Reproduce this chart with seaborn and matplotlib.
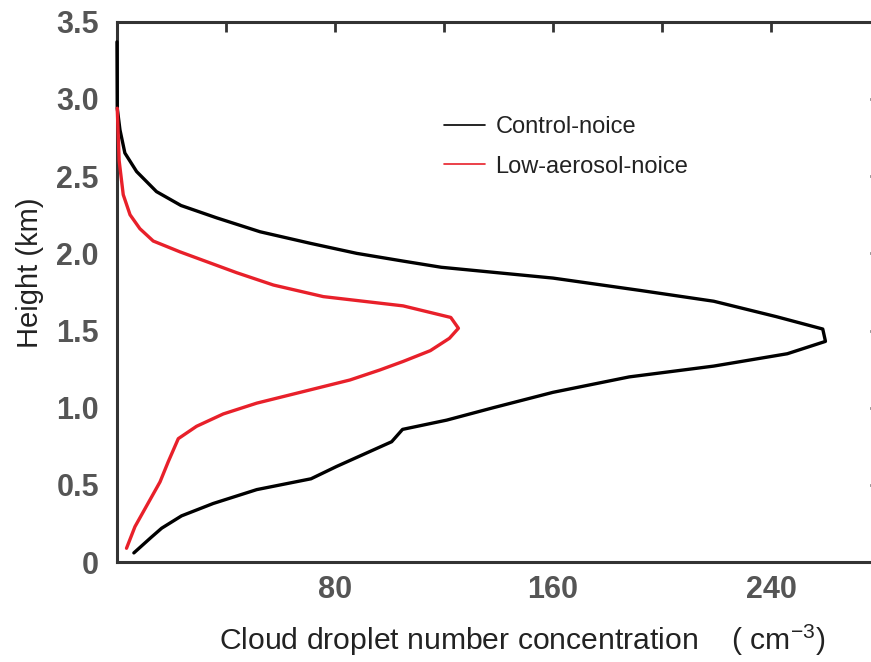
import matplotlib
matplotlib.use("Agg")
import matplotlib.pyplot as plt
import seaborn as sns
import pandas as pd
from matplotlib.ticker import FixedLocator, FixedFormatter

# ---- data ----
ctrl_label = "Control-noice"
ctrl_height = [0.06, 0.16, 0.22, 0.30, 0.38, 0.47, 0.54, 0.62, 0.78, 0.86, 0.92, 1.00,
               1.10, 1.20, 1.27, 1.35, 1.43, 1.51, 1.59, 1.69, 1.76, 1.84, 1.91, 1.95,
               2.00, 2.065, 2.14, 2.23, 2.31, 2.40, 2.53, 2.65, 2.80, 2.94, 3.37]
ctrl_conc = [6.2, 12.5, 16.4, 23.7, 35.3, 51.3, 71.2, 80.6, 100.8, 104.8, 121.0, 138.0,
             160.0, 188.0, 219.0, 246.0, 260.0, 259.0, 242.0, 219.0, 192.0, 160.0, 119.0, 105.0,
             88.0, 71.0, 52.5, 36.6, 23.5, 14.5, 7.2, 2.9, 1.1, 0.1, 0.0]

low_label = "Low-aerosol-noice"
low_height = [0.09, 0.23, 0.52, 0.65, 0.80, 0.88, 0.96, 1.03, 1.18, 1.245, 1.30, 1.37,
              1.45, 1.515, 1.585, 1.66, 1.72, 1.795, 1.875, 2.01, 2.08, 2.16, 2.25, 2.38,
              2.60, 2.94]
low_conc = [3.5, 6.6, 15.8, 18.8, 22.5, 29.2, 39.0, 51.3, 85.5, 96.5, 105.0, 115.0,
            122.0, 125.3, 122.5, 105.0, 75.7, 57.4, 43.9, 23.1, 13.3, 8.4, 4.8, 2.3,
            0.8, 0.1]

x_major = [80, 160, 240]
x_major_labels = ["80", "160", "240"]
x_minor = [0, 40, 120, 200, 280]
y_ticks = [0, 0.5, 1.0, 1.5, 2.0, 2.5, 3.0, 3.5]
y_tick_labels = ["0", "0.5", "1.0", "1.5", "2.0", "2.5", "3.0", "3.5"]

df = pd.concat([
    pd.DataFrame({"conc": ctrl_conc, "height": ctrl_height, "run": ctrl_label}),
    pd.DataFrame({"conc": low_conc, "height": low_height, "run": low_label}),
], ignore_index=True)

sns.set_style("white")
plt.rcParams["font.family"] = ["Liberation Sans", "DejaVu Sans"]
plt.rcParams["mathtext.fontset"] = "custom"
plt.rcParams["mathtext.rm"] = "Liberation Sans"
plt.rcParams["mathtext.it"] = "Liberation Sans"

fig = plt.figure(figsize=(8.71, 6.62), dpi=100)
ax = fig.add_axes([0.1343, 0.1508, 0.876, 0.8163])

red = "#e8202a"
sns.lineplot(data=df, x="conc", y="height", hue="run", sort=False, estimator=None,
             palette={ctrl_label: "black", low_label: red}, linewidth=2.4,
             ax=ax, legend=True)
for ln in ax.get_lines():
    ln.set_zorder(3)
    ln.set_clip_on(False)

ax.set_xlim(0, 280)
ax.set_ylim(0, 3.5)

for s in ax.spines.values():
    s.set_linewidth(2.2)
    s.set_color("#333333")

ax.xaxis.set_major_locator(FixedLocator(x_major))
ax.xaxis.set_major_formatter(FixedFormatter(x_major_labels))
ax.xaxis.set_minor_locator(FixedLocator(x_minor))
ax.yaxis.set_major_locator(FixedLocator(y_ticks))
ax.yaxis.set_major_formatter(FixedFormatter(y_tick_labels))

ax.tick_params(axis="both", which="both", direction="in", top=True, right=True,
               length=7, width=2.0, color="#333333")
ax.tick_params(axis="x", which="major", labelsize=22, pad=9, labelcolor="#555555")
ax.tick_params(axis="y", which="major", labelsize=22, pad=13, labelcolor="#555555")
for lab in ax.get_xticklabels() + ax.get_yticklabels():
    lab.set_fontweight("bold")

ax.set_xlabel("Cloud droplet number concentration    ( cm$^{-3}$)", fontsize=21.7,
              color="#222222", labelpad=12)
ax.xaxis.set_label_coords(0.531, -0.112)
ax.set_ylabel("Height (km)", fontsize=21, color="#222222")
ax.yaxis.set_label_coords(-0.096, 0.535)

handles, labels = ax.get_legend_handles_labels()
leg = ax.legend(handles, labels, loc="upper left", bbox_to_anchor=(0.428, 0.826),
                frameon=False, fontsize=17, handlelength=1.75, handletextpad=0.45,
                labelspacing=0.75, borderpad=0, borderaxespad=0)
for line in leg.get_lines():
    line.set_linewidth(1.2)
for t in leg.get_texts():
    t.set_color("#222222")

fig.savefig("out.png", dpi=100)
